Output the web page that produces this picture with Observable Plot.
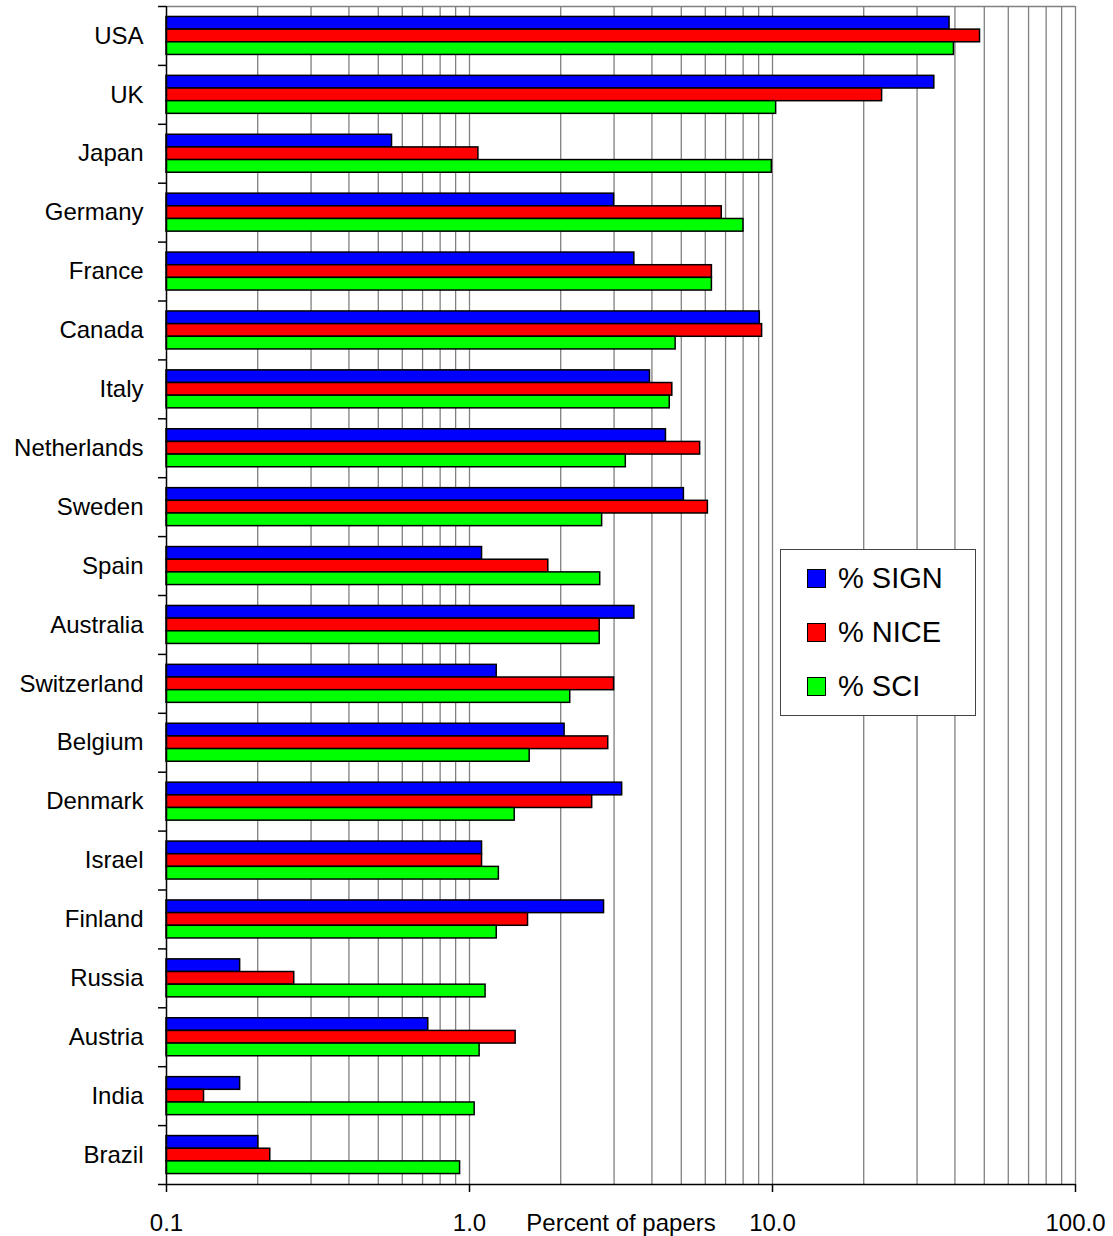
<!DOCTYPE html>
<html>
<head>
<meta charset="utf-8">
<script src="https://cdn.jsdelivr.net/npm/d3@7"></script>
<script src="https://cdn.jsdelivr.net/npm/@observablehq/plot@0.6"></script>
<style>
  body { margin: 0; background: #fff; }
  #chart { position: relative; width: 1113px; height: 1236px; font-family: "Liberation Sans", Arial, sans-serif; }
  #chart svg { display: block; }
  .legend { position: absolute; left: 780px; top: 549px; width: 196px; height: 167px; box-sizing: border-box;
            border: 1.5px solid #444; background: #fff; padding-top: 1px; }
  .legend .row { display: flex; align-items: center; height: 54px; padding-left: 26px; font-size: 29px; color: #000; }
  .legend .sw { width: 19px; height: 19px; border: 1.5px solid #000; box-sizing: border-box; margin-right: 12px; }
</style>
</head>
<body>
<div id="chart"></div>
<script>
// Share of papers by country, three sources, on a log scale
const countries = ["USA", "UK", "Japan", "Germany", "France", "Canada", "Italy", "Netherlands", "Sweden", "Spain",
  "Australia", "Switzerland", "Belgium", "Denmark", "Israel", "Finland", "Russia", "Austria", "India", "Brazil"];
const signValues = [38.4, 34.2, 0.555, 3.00, 3.50, 9.08, 3.94, 4.45, 5.10, 1.10,
  3.50, 1.23, 2.06, 3.19, 1.10, 2.78, 0.175, 0.731, 0.175, 0.201];
const niceValues = [48.4, 23.0, 1.07, 6.80, 6.31, 9.24, 4.67, 5.77, 6.12, 1.82,
  2.69, 3.00, 2.87, 2.54, 1.10, 1.56, 0.264, 1.42, 0.133, 0.220];
const sciValues = [39.7, 10.28, 9.95, 8.02, 6.31, 4.79, 4.58, 3.28, 2.74, 2.70,
  2.69, 2.15, 1.58, 1.41, 1.25, 1.23, 1.13, 1.08, 1.04, 0.931];
const seriesNames = ["% SIGN", "% NICE", "% SCI"];
const seriesColors = ["#0000ff", "#ff0000", "#00ff00"];
const xDomain = [0.1, 100];
const xTickValues = [0.1, 1, 10, 100];
const xLabel = "Percent of papers";

const seriesValues = [signValues, niceValues, sciValues];
const rows = seriesNames.flatMap((s, si) =>
  countries.map((c, ci) => ({country: c, series: s, value: seriesValues[si][ci]})));

const width = 1113, height = 1236;
const marginLeft = 166, marginRight = 38, marginTop = 6, marginBottom = 52;
const plotW = width - marginLeft - marginRight;
const step = (height - marginTop - marginBottom) / countries.length;
const groupH = step * 0.645;
const gap = (step - groupH) / 2;
const barH = groupH / seriesNames.length;

const gridValues = d3.scaleLog().domain(xDomain).ticks().filter(v => v > xDomain[0]);
const last = countries[countries.length - 1];

// one bar mark per source, stacked inside each country's band
const barMarks = seriesNames.map((s, i) => Plot.barX(rows.filter(d => d.series === s), {
  x1: () => xDomain[0],
  x2: "value",
  y: "country",
  fill: seriesColors[i],
  stroke: "#000",
  strokeWidth: 1.5,
  insetTop: gap + i * barH,
  insetBottom: step - gap - (i + 1) * barH
}));

const chart = Plot.plot({
  width, height, marginLeft, marginRight, marginTop, marginBottom,
  style: {fontFamily: '"Liberation Sans", Arial, sans-serif', fontSize: "24px", background: "#fff", overflow: "visible", color: "#000"},
  x: {type: "log", domain: xDomain},
  y: {domain: countries, paddingInner: 0, paddingOuter: 0, round: false},
  marks: [
    Plot.ruleX(gridValues, {stroke: "#808080", strokeWidth: 1.3}),
    Plot.ruleY([countries[0]], {dy: -step / 2, stroke: "#808080", strokeWidth: 1.5}),
    ...barMarks,
    Plot.ruleX([xDomain[0]], {stroke: "#000", strokeWidth: 1.5}),
    Plot.ruleY([last], {dy: step / 2, stroke: "#000", strokeWidth: 1.5}),
    Plot.ruleY(countries, {dy: -step / 2, insetLeft: -8, insetRight: plotW, stroke: "#000", strokeWidth: 1.5}),
    Plot.ruleY([last], {dy: step / 2, insetLeft: -8, insetRight: plotW, stroke: "#000", strokeWidth: 1.5}),
    Plot.axisY({tickSize: 0, tickPadding: 23, label: null, fontSize: 24}),
    Plot.axisX({ticks: xTickValues, tickSize: 8, tickPadding: 21, tickFormat: d3.format(".1f"), label: null, fontSize: 24, strokeWidth: 1.5}),
    Plot.text([xLabel], {frameAnchor: "bottom", dy: 46, lineAnchor: "bottom", fontSize: 24})
  ]
});

const root = document.getElementById("chart");
root.appendChild(chart);

// Legend box drawn over the plot area
const legend = document.createElement("div");
legend.className = "legend";
seriesNames.forEach((s, i) => {
  const row = document.createElement("div");
  row.className = "row";
  const sw = document.createElement("span");
  sw.className = "sw";
  sw.style.background = seriesColors[i];
  const label = document.createElement("span");
  label.textContent = s;
  row.appendChild(sw);
  row.appendChild(label);
  legend.appendChild(row);
});
root.appendChild(legend);
</script>
</body>
</html>
